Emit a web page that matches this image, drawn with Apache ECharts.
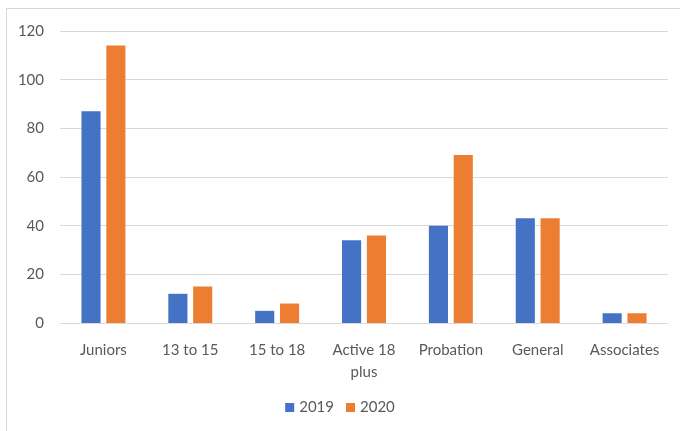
<!DOCTYPE html>
<html>
<head>
<meta charset="utf-8">
<script src="https://cdn.jsdelivr.net/npm/echarts@6/dist/echarts.min.js"></script>
<style>
  html, body { margin: 0; padding: 0; background: #fff; }
  #wrap { position: relative; width: 680px; height: 431px; }
  #chart { width: 680px; height: 431px; }
  #frame { position: absolute; left: 6px; top: 8px; right: -2px; bottom: -2px;
           border: 1px solid #d9d9d9; pointer-events: none; }
</style>
</head>
<body>
<div id="wrap">
  <div id="chart"></div>
  <div id="frame"></div>
</div>
<script>
const categories = ['Juniors', '13 to 15', '15 to 18', 'Active 18\nplus', 'Probation', 'General', 'Associates']
const values2019 = [87, 12, 5, 34, 40, 43, 4]
const values2020 = [114, 15, 8, 36, 69, 43, 4]
const seriesNames = ['2019', '2020']

const chart = echarts.init(document.getElementById('chart'))
const font = 'Lato, "Open Sans", sans-serif'
const option = {
  animation: false,
  backgroundColor: '#fff',
  color: ['#4472C4', '#ED7D31'],
  legend: {
    data: seriesNames,
    bottom: 11,
    left: 'center',
    itemWidth: 9,
    itemHeight: 9,
    itemGap: 12,
    icon: 'rect',
    textStyle: { color: '#595959', fontSize: 15, fontFamily: font }
  },
  grid: {
    left: 60,
    right: 12,
    top: 31,
    bottom: 108
  },
  xAxis: {
    type: 'category',
    data: categories,
    axisLine: { lineStyle: { color: '#d9d9d9' } },
    axisTick: { show: false },
    axisLabel: {
      color: '#595959',
      fontSize: 15,
      fontFamily: font,
      margin: 16,
      lineHeight: 22,
      interval: 0
    }
  },
  yAxis: {
    type: 'value',
    min: 0,
    max: 120,
    interval: 20,
    axisLine: { show: false },
    axisTick: { show: false },
    splitLine: { lineStyle: { color: '#d9d9d9' } },
    axisLabel: { color: '#595959', fontSize: 15, fontFamily: font, margin: 16 }
  },
  series: [
    {
      name: seriesNames[0],
      type: 'bar',
      data: values2019,
      barWidth: '22%',
      barGap: '30%'
    },
    {
      name: seriesNames[1],
      type: 'bar',
      data: values2020,
      barWidth: '22%',
      barGap: '30%'
    }
  ]
}
chart.setOption(option)
</script>
</body>
</html>
